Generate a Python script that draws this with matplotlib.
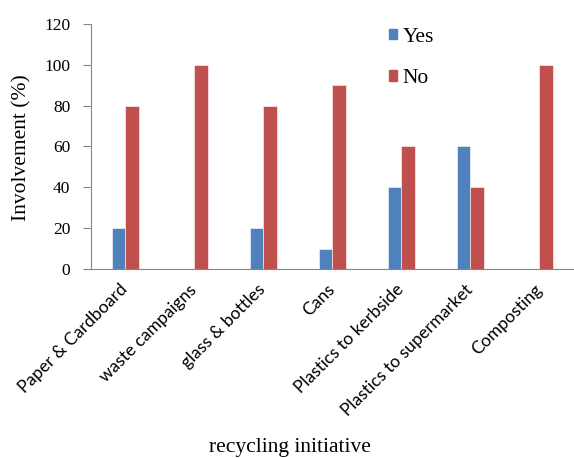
import numpy as np
import matplotlib.pyplot as plt
import matplotlib.transforms as mtransforms
from matplotlib.patches import Patch

# recycling survey: share of respondents taking part in each initiative
initiatives = ["Paper & Cardboard", "waste campaigns", "glass & bottles", "Cans",
               "Plastics to kerbside", "Plastics to supermarket", "Composting"]
yes_pct = [20, 0, 20, 10, 40, 60, 0]
no_pct = [80, 100, 80, 90, 60, 40, 100]
y_ticks = [0, 20, 40, 60, 80, 100, 120]

BLUE = "#4F81BD"
RED = "#C0504D"
AXIS_GREY = "#868686"
SERIF = ["Liberation Serif", "DejaVu Serif"]
SANS = ["Lato", "Liberation Sans", "DejaVu Sans"]

fig = plt.figure(figsize=(5.74, 4.58), dpi=100)
ax = fig.add_axes([0.1585, 0.4127, 0.8415, 0.5349])

x = np.arange(len(initiatives))
w = 0.2
ax.bar(x - w / 2, yes_pct, width=w, color=BLUE, edgecolor="white", linewidth=0.4, label="Yes")
ax.bar(x + w / 2, no_pct, width=w, color=RED, edgecolor="white", linewidth=0.4, label="No")

ax.set_xlim(-0.5, len(initiatives) - 0.5)
ax.set_ylim(0, 120)
ax.set_yticks(y_ticks)
ax.set_yticklabels([str(v) for v in y_ticks], fontfamily=SERIF, fontsize=12.5)
ax.set_xticks(x)
ax.set_xticklabels(initiatives, rotation=45, ha="right", rotation_mode="anchor",
                   fontfamily=SANS, fontsize=12.5)
ax.tick_params(axis="x", length=0, pad=9)
ax.tick_params(axis="y", length=6, color=AXIS_GREY, width=0.8, pad=9)

# nudge rotated category labels a little to the left
shift = mtransforms.ScaledTranslation(-0.06, 0, fig.dpi_scale_trans)
for lbl in ax.get_xticklabels():
    lbl.set_transform(lbl.get_transform() + shift)

for side in ("top", "right"):
    ax.spines[side].set_visible(False)
for side in ("left", "bottom"):
    ax.spines[side].set_color(AXIS_GREY)
    ax.spines[side].set_linewidth(0.8)

# axis titles placed in figure coordinates
fig.text(0.038, 0.678, "Involvement (%)", rotation=90, ha="center", va="center",
         fontfamily=SERIF, fontsize=15.5)
fig.text(0.505, 0.014, "recycling initiative", ha="center", va="baseline",
         fontfamily=SERIF, fontsize=15.5)

handles = [Patch(color=BLUE, label="Yes"), Patch(color=RED, label="No")]
ax.legend(handles=handles, loc="upper left", bbox_to_anchor=(0.576, 1.064), frameon=False,
          prop={"family": SERIF, "size": 15.5}, handlelength=0.37, handleheight=0.37,
          handletextpad=0.28, labelspacing=1.05)

fig.savefig("out.png", dpi=100)
